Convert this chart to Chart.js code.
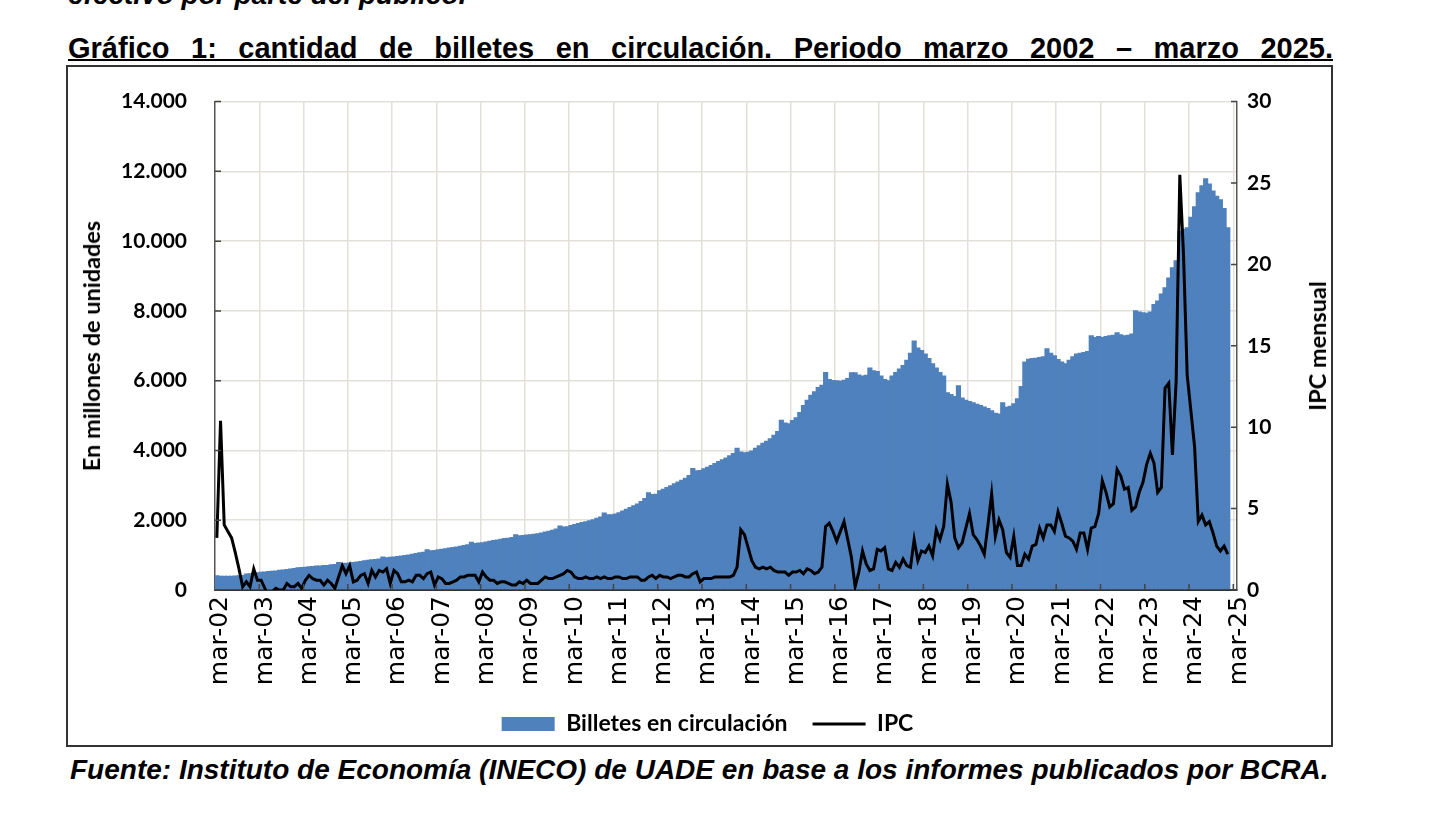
<!DOCTYPE html>
<html>
<head>
<meta charset="utf-8">
<script src="https://cdn.jsdelivr.net/npm/chart.js@4.4.1/dist/chart.umd.min.js"></script>
<style>
  body { margin: 0; background: #fff; width: 1440px; height: 825px; overflow: hidden; position: relative; font-family: "Liberation Sans", Arial, sans-serif; color: #000; }
  #prev { position: absolute; left: 68px; top: -19px; font: bold italic 28px/28px "Liberation Sans", Arial, sans-serif; white-space: nowrap; }
  #title { position: absolute; left: 68px; top: 34px; width: 1265px; font: bold 29px/29px "Liberation Sans", Arial, sans-serif; text-align: justify; text-align-last: justify; text-decoration: underline; text-decoration-thickness: 2px; }
  #box { position: absolute; left: 66px; top: 65px; width: 1263px; height: 678px; border: 2px solid #333; }
  #c { position: absolute; left: 0; top: -6px; }
  .ytitle { position: absolute; font: bold 23.5px "Lato", sans-serif; white-space: nowrap; transform: translate(-50%, -50%) rotate(-90deg); }
  #foot { position: absolute; left: 70px; top: 756px; font: bold italic 28px/28px "Liberation Sans", Arial, sans-serif; white-space: nowrap; }
</style>
</head>
<body>
<div id="prev">efectivo por parte del público.</div>
<div id="title">Gráfico 1: cantidad de billetes en circulación. Periodo marzo 2002 – marzo 2025.</div>
<div id="box"><canvas id="c" width="1263" height="690"></canvas></div>
<div class="ytitle" style="left:91px; top:346px;">En millones de unidades</div>
<div class="ytitle" style="left:1317px; top:346px;">IPC mensual</div>
<div id="foot">Fuente: Instituto de Economía (INECO) de UADE en base a los informes publicados por BCRA.</div>
<script>
// meses desde mar-02 hasta mar-25
var meses = ['mar', 'abr', 'may', 'jun', 'jul', 'ago', 'sep', 'oct', 'nov', 'dic', 'ene', 'feb'];
var labels = [];
for (var i = 0; i < 277; i++) {
  var yy = 2 + Math.floor((i + 2) / 12);
  labels.push(meses[i % 12] + '-' + String(yy).padStart(2, '0'));
}

// billetes en circulacion, millones de unidades (mar..feb de cada año)
var billetes = [
  420, 410, 410, 410, 410, 415, 420, 430, 470, 480, 500, 510,
  520, 530, 545, 555, 560, 580, 590, 600, 615, 630, 650, 660,
  670, 680, 690, 700, 705, 715, 720, 735, 745, 800, 775, 780,
  790, 800, 815, 830, 850, 865, 880, 890, 905, 960, 940, 950,
  960, 975, 990, 1005, 1020, 1040, 1060, 1080, 1100, 1170, 1140, 1150,
  1170, 1185, 1200, 1215, 1230, 1250, 1270, 1290, 1310, 1380, 1350, 1360,
  1370, 1390, 1410, 1430, 1450, 1470, 1490, 1500, 1520, 1600, 1570, 1580,
  1590, 1600, 1615, 1630, 1650, 1680, 1700, 1730, 1760, 1850, 1820, 1830,
  1860, 1890, 1920, 1950, 1970, 2000, 2030, 2070, 2110, 2220, 2170, 2170,
  2190, 2230, 2280, 2330, 2380, 2430, 2480, 2550, 2640, 2800, 2750, 2760,
  2860, 2900, 2950, 3000, 3060, 3110, 3160, 3220, 3300, 3500, 3430, 3440,
  3490, 3530, 3580, 3640, 3700, 3750, 3800, 3860, 3930, 4080, 3970, 3950,
  3960, 4000, 4080, 4150, 4220, 4280, 4350, 4450, 4560, 4880, 4800, 4780,
  4870, 4950, 5100, 5300, 5450, 5600, 5700, 5820, 5880, 6250, 6050, 6020,
  6010, 6000, 6030, 6080, 6240, 6240, 6180, 6150, 6170, 6380, 6300, 6280,
  6150, 6050, 6010, 6150, 6250, 6350, 6450, 6600, 6800, 7150, 6950, 6880,
  6780, 6650, 6500, 6380, 6250, 6150, 5670, 5620, 5560, 5870, 5520, 5450,
  5420, 5380, 5340, 5300, 5260, 5220, 5150, 5080, 5060, 5380, 5250, 5280,
  5350, 5500, 5850, 6550, 6630, 6650, 6660, 6680, 6700, 6930, 6800, 6730,
  6620, 6550, 6500, 6600, 6700, 6780, 6800, 6820, 6850, 7300, 7250, 7280,
  7250, 7280, 7300, 7320, 7390, 7330, 7300, 7320, 7350, 8020, 7980, 7960,
  7950, 7980, 8200, 8300, 8500, 8680, 8960, 9250, 9450, 10300, 10350, 10400,
  10700, 11000, 11400, 11600, 11800, 11650, 11450, 11300, 11200, 10950, 10400, null, null
];

// IPC mensual, % (mar..feb de cada año)
var ipc = [
  3.2, 10.4, 4.0, 3.6, 3.2, 2.3, 1.3, 0.2, 0.5, 0.2, 1.3, 0.6,
  0.6, 0.1, -0.4, -0.1, 0.1, 0.0, 0.0, 0.4, 0.2, 0.2, 0.4, 0.1,
  0.6, 0.9, 0.7, 0.6, 0.6, 0.3, 0.6, 0.4, 0.1, 0.8, 1.5, 1.0,
  1.5, 0.5, 0.6, 0.9, 1.0, 0.4, 1.2, 0.8, 1.2, 1.1, 1.3, 0.4,
  1.2, 1.0, 0.5, 0.5, 0.6, 0.5, 0.9, 0.9, 0.7, 1.0, 1.1, 0.3,
  0.8, 0.7, 0.4, 0.4, 0.5, 0.6, 0.8, 0.8, 0.9, 0.9, 0.9, 0.5,
  1.1, 0.8, 0.6, 0.6, 0.4, 0.5, 0.5, 0.4, 0.3, 0.3, 0.5, 0.4,
  0.6, 0.4, 0.4, 0.4, 0.6, 0.8, 0.7, 0.7, 0.8, 0.9, 1.0, 1.2,
  1.1, 0.8, 0.7, 0.7, 0.8, 0.7, 0.7, 0.8, 0.7, 0.8, 0.7, 0.7,
  0.8, 0.8, 0.7, 0.7, 0.8, 0.8, 0.8, 0.6, 0.6, 0.8, 0.9, 0.7,
  0.9, 0.8, 0.8, 0.7, 0.8, 0.9, 0.9, 0.8, 0.8, 1.0, 1.1, 0.5,
  0.7, 0.7, 0.7, 0.8, 0.8, 0.8, 0.8, 0.8, 0.9, 1.4, 3.7, 3.4,
  2.6, 1.8, 1.4, 1.3, 1.4, 1.3, 1.4, 1.2, 1.1, 1.1, 1.1, 0.9,
  1.1, 1.1, 1.2, 1.0, 1.3, 1.2, 1.0, 1.1, 1.4, 3.9, 4.1, 3.6,
  3.0, 3.6, 4.2, 3.1, 2.0, 0.2, 1.1, 2.4, 1.6, 1.2, 1.3, 2.5,
  2.4, 2.6, 1.3, 1.2, 1.7, 1.4, 1.9, 1.5, 1.4, 3.1, 1.8, 2.4,
  2.3, 2.7, 2.1, 3.7, 3.1, 3.9, 6.5, 5.4, 3.2, 2.6, 2.9, 3.8,
  4.7, 3.4, 3.1, 2.7, 2.2, 4.0, 5.9, 3.3, 4.3, 3.7, 2.3, 2.0,
  3.3, 1.5, 1.5, 2.2, 1.9, 2.7, 2.8, 3.8, 3.2, 4.0, 4.0, 3.6,
  4.8, 4.1, 3.3, 3.2, 3.0, 2.5, 3.5, 3.5, 2.5, 3.8, 3.9, 4.7,
  6.7, 6.0, 5.1, 5.3, 7.4, 7.0, 6.2, 6.3, 4.9, 5.1, 6.0, 6.6,
  7.7, 8.4, 7.8, 6.0, 6.3, 12.4, 12.7, 8.3, 12.8, 25.5, 20.6, 13.2,
  11.0, 8.8, 4.2, 4.6, 4.0, 4.2, 3.5, 2.7, 2.4, 2.7, 2.2, null, null
];

var gridColor = '#e3dfd9';
var tickFont = { family: 'Lato', weight: 'bold', size: 21 };

// marcas de escala hacia adentro, como en Excel
var inwardTicks = {
  id: 'inwardTicks',
  afterDatasetsDraw: function (chart) {
    var ctx = chart.ctx, a = chart.chartArea, s = chart.scales;
    ctx.save();
    ctx.strokeStyle = '#444';
    ctx.lineWidth = 1.5;
    ctx.beginPath();
    s.y.ticks.forEach(function (t) {
      var py = s.y.getPixelForValue(t.value);
      ctx.moveTo(a.left, py); ctx.lineTo(a.left + 6, py);
    });
    s.y1.ticks.forEach(function (t) {
      var py = s.y1.getPixelForValue(t.value);
      ctx.moveTo(a.right, py); ctx.lineTo(a.right - 6, py);
    });
    for (var i = 12; i < labels.length; i += 12) {
      var px = (s.x.getPixelForValue(i - 1) + s.x.getPixelForValue(i)) / 2;
      ctx.moveTo(px, a.bottom); ctx.lineTo(px, a.bottom - 6);
    }
    ctx.stroke();
    ctx.restore();
  }
};

var chart = new Chart(document.getElementById('c'), {
  type: 'bar',
  data: {
    labels: labels,
    datasets: [{
      type: 'bar',
      label: 'Billetes en circulación',
      data: billetes,
      backgroundColor: '#4f81bd',
      borderWidth: 0,
      barPercentage: 1.4,
      categoryPercentage: 1,
      yAxisID: 'y',
      order: 2,
      pointStyle: 'rect'
    }, {
      type: 'line',
      label: 'IPC',
      data: ipc,
      borderColor: '#000',
      borderWidth: 3,
      pointRadius: 0,
      tension: 0,
      yAxisID: 'y1',
      order: 1,
      pointStyle: 'line'
    }]
  },
  options: {
    responsive: false,
    animation: false,
    layout: { padding: { top: 0, left: 16, right: 0, bottom: 5.5 } },
    scales: {
      x: {
        offset: true,
        grid: {
          offset: true,
          drawTicks: false,
          lineWidth: 1.5,
          color: function (c) { return c.index > 0 && c.index % 12 === 0 ? gridColor : 'transparent'; }
        },
        border: { color: '#333', width: 2 },
        ticks: {
          autoSkip: false,
          maxRotation: 90,
          minRotation: 90,
          padding: 6,
          labelOffset: 4,
          color: '#000',
          font: { family: 'DejaVu Sans', size: 25 },
          callback: function (v, i) { return i % 12 === 0 ? labels[i] : ''; }
        },
        afterFit: function (s) { s.height = 97.5; }
      },
      y: {
        position: 'left',
        min: 0,
        max: 14000,
        grid: { color: gridColor, lineWidth: 1.5, drawTicks: false },
        border: { color: '#555', width: 1.5 },
        ticks: {
          stepSize: 2000,
          padding: 28,
          color: '#000',
          font: tickFont,
          callback: function (v) { return v.toLocaleString('de-DE'); }
        },
        afterFit: function (s) { s.width = 131; }
      },
      y1: {
        position: 'right',
        min: 0,
        max: 30,
        grid: { display: false, drawTicks: false },
        border: { color: '#555', width: 1.5 },
        ticks: { stepSize: 5, padding: 10, color: '#000', font: tickFont },
        afterFit: function (s) { s.width = 94; }
      }
    },
    plugins: {
      legend: {
        position: 'bottom',
        labels: {
          usePointStyle: true,
          pointStyleWidth: 53,
          boxHeight: 14,
          padding: 25,
          color: '#000',
          font: { family: 'Lato', weight: 'bold', size: 23 },
          sort: function (a, b) { return a.datasetIndex - b.datasetIndex; }
        }
      },
      tooltip: { enabled: false }
    }
  },
  plugins: [inwardTicks]
});
</script>
</body>
</html>
